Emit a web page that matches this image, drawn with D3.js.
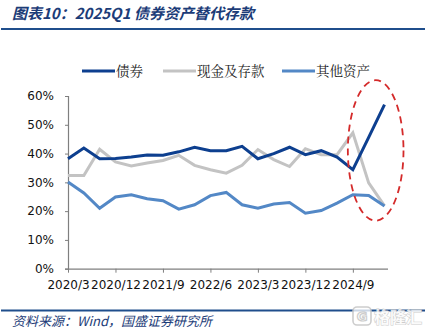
<!DOCTYPE html>
<html>
<head>
<meta charset="utf-8">
<script src="https://cdn.jsdelivr.net/npm/d3@7"></script>
<style>
  html, body { margin: 0; padding: 0; background: #fff; }
  svg { display: block; }
</style>
</head>
<body>
<svg id="chart"></svg>
<script>
// quarterly shares of household financial assets, 2020Q1 – 2025Q1
const quarters = [
  '2020/3', '2020/6', '2020/9', '2020/12', '2021/3', '2021/6', '2021/9',
  '2021/12', '2022/3', '2022/6', '2022/9', '2022/12', '2023/3', '2023/6',
  '2023/9', '2023/12', '2024/3', '2024/6', '2024/9', '2024/12', '2025/3'
];
const bonds = [38.2, 41.9, 38.2, 38.3, 38.8, 39.5, 39.4, 40.6, 42.2, 41.0, 41.0,
  42.5, 38.2, 40.0, 42.2, 39.6, 41.0, 38.8, 34.4, 45.6, 57.0];
const cashDeposits = [32.4, 32.4, 41.5, 37.1, 35.7, 36.7, 37.6, 39.4, 35.9, 34.4, 33.2,
  35.9, 41.4, 37.9, 35.5, 41.7, 39.6, 39.6, 47.2, 29.8, 21.8];
const otherAssets = [30.1, 26.3, 21.0, 24.9, 25.7, 24.3, 23.6, 20.7, 22.2, 25.4, 26.5,
  22.2, 21.0, 22.5, 23.0, 19.3, 20.2, 22.8, 25.7, 25.4, 21.8];
const seriesNames = ['债券', '现金及存款', '其他资产'];
const yTicks = [0, 10, 20, 30, 40, 50, 60];

const W = 425, H = 331;
const blue = '#1f4e8c';
const colors = ['#0d3f8f', '#c3c3c3', '#5388c6'];

const svg = d3.select('#chart').attr('width', W).attr('height', H)
  .attr('viewBox', `0,0,${W},${H}`);

// header
svg.append('text')
  .attr('x', 12).attr('y', 19)
  .attr('font-family', '"Noto Sans CJK SC", sans-serif')
  .attr('font-size', 15).attr('font-weight', 'bold').attr('font-style', 'italic')
  .attr('fill', '#1c3c78')
  .text('图表10：2025Q1 债券资产替代存款');
svg.append('line')
  .attr('x1', 1).attr('x2', W).attr('y1', 29).attr('y2', 29)
  .attr('stroke', blue).attr('stroke-width', 2.2);

// plot
const x = d3.scalePoint().domain(quarters).range([68, 384.5]);
const y = d3.scaleLinear().domain([0, 60]).range([268.7, 96]);

const axisFont = 'DejaVu Sans, Verdana, sans-serif';

const yAxis = svg.append('g')
  .attr('transform', 'translate(68,0)')
  .call(d3.axisLeft(y).tickValues(yTicks).tickSize(3).tickPadding(11)
    .tickFormat(d => d + '%'));
yAxis.select('.domain').attr('stroke', '#7f7f7f').attr('stroke-width', 1.2);
yAxis.selectAll('.tick line').attr('stroke', '#7f7f7f');
yAxis.selectAll('text').attr('font-family', axisFont).attr('font-size', 12)
  .attr('fill', '#111');

const xAxis = svg.append('g')
  .attr('transform', `translate(0,${y(0)})`)
  .call(d3.axisBottom(x).tickValues(quarters.filter((d, i) => i % 3 === 0))
    .tickSize(4).tickSizeOuter(0).tickPadding(8));
xAxis.select('.domain').attr('d', `M68,0.5H388`)
  .attr('stroke', '#7f7f7f').attr('stroke-width', 1.2);
xAxis.selectAll('.tick line').attr('stroke', '#7f7f7f');
xAxis.selectAll('text').attr('font-family', axisFont).attr('font-size', 12)
  .attr('fill', '#111');

const line = d3.line()
  .x((d, i) => x(quarters[i]))
  .y(d => y(d));

// grey drawn first so the blue lines sit on top
[[cashDeposits, 1], [otherAssets, 2], [bonds, 0]].forEach(([vals, k]) => {
  svg.append('path')
    .datum(vals)
    .attr('d', line)
    .attr('fill', 'none')
    .attr('stroke', colors[k])
    .attr('stroke-width', 3)
    .attr('stroke-linejoin', 'miter');
});

// highlight around the last quarters
const hx0 = x(quarters[18]) - 5, hx1 = x(quarters[20]) + 19;
svg.append('ellipse')
  .attr('cx', (hx0 + hx1) / 2)
  .attr('cy', (y(65.5) + y(16.7)) / 2)
  .attr('rx', (hx1 - hx0) / 2)
  .attr('ry', (y(16.7) - y(65.5)) / 2)
  .attr('fill', 'none')
  .attr('stroke', '#d42a2a')
  .attr('stroke-width', 1.8)
  .attr('stroke-dasharray', '7,5');

// legend
const legendX = [82, 163, 282];
const legend = svg.append('g')
  .selectAll('g')
  .data(seriesNames)
  .join('g')
    .attr('transform', (d, i) => `translate(${legendX[i]},71)`);
legend.append('line')
  .attr('x1', 0).attr('x2', 33)
  .attr('stroke', (d, i) => colors[i]).attr('stroke-width', 3);
legend.append('text')
  .attr('x', 34).attr('y', 5)
  .attr('font-family', '"Noto Serif CJK SC", "Noto Sans CJK SC", serif')
  .attr('font-size', 13.5).attr('fill', '#222')
  .text(d => d);

// footer
svg.append('line')
  .attr('x1', 1).attr('x2', W).attr('y1', 310.5).attr('y2', 310.5)
  .attr('stroke', blue).attr('stroke-width', 2);
svg.append('text')
  .attr('x', 12).attr('y', 326)
  .attr('font-family', '"Noto Sans CJK SC", sans-serif')
  .attr('font-size', 13).attr('font-style', 'italic')
  .attr('fill', '#1c3c78')
  .text('资料来源：Wind，国盛证券研究所');

// site mark
const mark = svg.append('g').attr('opacity', 0.9);
mark.append('rect')
  .attr('x', 353).attr('y', 307).attr('width', 18).attr('height', 18).attr('rx', 4)
  .attr('fill', 'rgba(255,255,255,0.85)').attr('stroke', '#c8c8c8').attr('stroke-width', 1.6);
mark.append('text')
  .attr('x', 362).attr('y', 321).attr('text-anchor', 'middle')
  .attr('font-family', 'DejaVu Sans, sans-serif').attr('font-size', 13).attr('font-weight', 'bold')
  .attr('fill', 'none').attr('stroke', '#c8c8c8').attr('stroke-width', 1.2)
  .text('G');
mark.append('text')
  .attr('x', 374).attr('y', 322.5)
  .attr('font-family', '"Noto Sans CJK SC", sans-serif').attr('font-size', 16).attr('font-weight', 'bold')
  .attr('fill', 'rgba(255,255,255,0.9)').attr('stroke', '#c8c8c8').attr('stroke-width', 1)
  .attr('paint-order', 'stroke')
  .text('格隆汇');
</script>
</body>
</html>
